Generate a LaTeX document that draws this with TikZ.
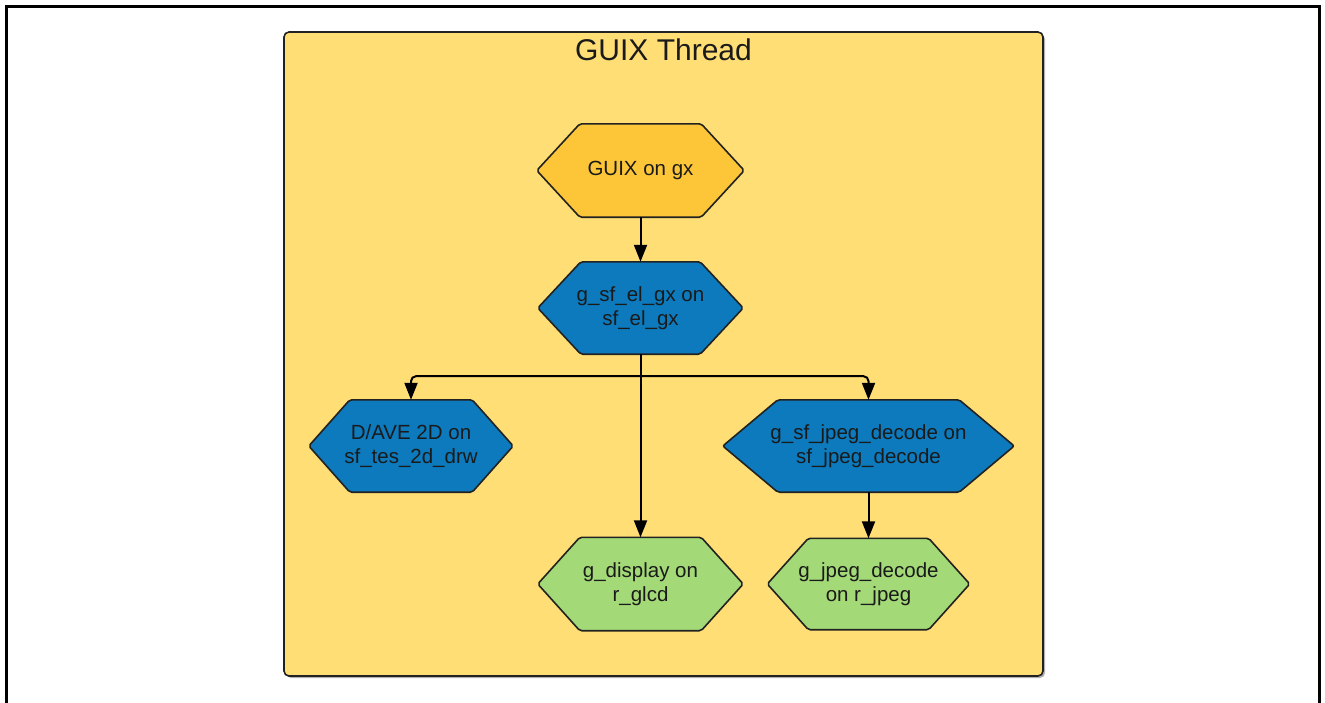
\documentclass[tikz,border=0pt]{standalone}
\usepackage{fontspec}
\setmainfont{Liberation Sans}
\usetikzlibrary{calc,arrows.meta,backgrounds}
\definecolor{contfill}{RGB}{255,222,117}
\definecolor{guixfill}{RGB}{252,198,56}
\definecolor{bluefill}{RGB}{12,122,188}
\definecolor{greenfill}{RGB}{163,217,119}
\definecolor{edgecol}{RGB}{34,34,34}
\definecolor{txtcol}{RGB}{26,26,26}
\newcommand\hexshape[3]{%
  \filldraw[hexline, fill=#3]
    ($(#1.north west)+(#2,0)$) -- ($(#1.north east)+(-#2,0)$) -- (#1.east)
    -- ($(#1.south east)+(-#2,0)$) -- ($(#1.south west)+(#2,0)$) -- (#1.west) -- cycle;}
\begin{document}
\begin{tikzpicture}[x=1pt,y=-1pt,
  hexbox/.style 2 args={draw=none, minimum width=#1, minimum height=#2, inner sep=0pt,
    align=center, text=txtcol, font=\fontsize{20.5}{23.5}\selectfont},
  hexline/.style={draw=edgecol, line width=1.6pt, rounded corners=2pt},
  conn/.style={draw=black, line width=2pt, -{Triangle[length=17pt,width=13pt]}},
  frameline/.style={draw=black, line width=3pt},
  container/.style={draw=edgecol, line width=1.6pt, fill=contfill, rounded corners=5pt},
  shadowbox/.style={fill=gray!60, rounded corners=5pt},
  titletext/.style={font=\fontsize{30}{34}\selectfont, text=txtcol, anchor=base, inner sep=0pt}]
\useasboundingbox (0,0) rectangle (1325,702);

% outer frame (bottom edge outside the picture)
\draw[frameline] (6,712) -- (6,6) -- (1319.5,6) -- (1319.5,712);

% nodes
\node[titletext] (title) at (663.5,60) {GUIX Thread};
\node[hexbox={207pt}{93pt}] (guix) at (640.5,170.5) {GUIX on gx};
\node[hexbox={205pt}{92pt}] (el) at (640.5,308) {g\_sf\_el\_gx on\\sf\_el\_gx};
\node[hexbox={204pt}{92pt}] (dave) at (411,446) {D/AVE 2D on\\sf\_tes\_2d\_drw};
\node[hexbox={291pt}{92pt}] (jpeg) at (868.5,446) {g\_sf\_jpeg\_decode on\\sf\_jpeg\_decode};
\node[hexbox={205pt}{93pt}] (disp) at (640.5,584) {g\_display on\\r\_glcd};
\node[hexbox={202pt}{91pt}] (jdec) at (868.5,584) {g\_jpeg\_decode\\on r\_jpeg};

\begin{scope}[on background layer]
  \fill[shadowbox] (286,34) rectangle (1045,678);
  \filldraw[container] (284,32) rectangle (1043,676);
  \hexshape{guix}{43pt}{guixfill}
  \hexshape{el}{43pt}{bluefill}
  \hexshape{dave}{41pt}{bluefill}
  \hexshape{jpeg}{55pt}{bluefill}
  \hexshape{disp}{42pt}{greenfill}
  \hexshape{jdec}{41pt}{greenfill}
\end{scope}

% connectors
\draw[conn] (guix.south) -- (el.north);
\draw[conn] (el.south) -- (disp.north);
\draw[conn, rounded corners=5pt] ($(el.south)+(0,22)$) -| (dave.north);
\draw[conn, rounded corners=5pt] ($(el.south)+(0,22)$) -| (jpeg.north);
\draw[conn] (jpeg.south) -- (jdec.north);
\end{tikzpicture}
\end{document}
